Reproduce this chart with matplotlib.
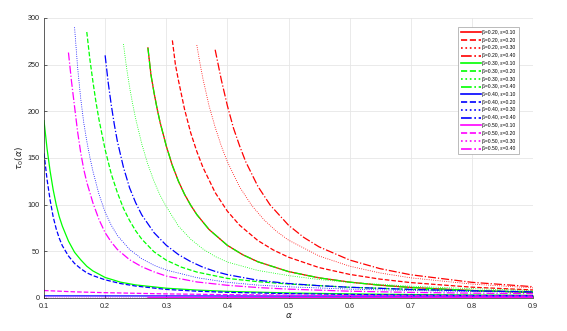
import matplotlib
matplotlib.use("Agg")
import matplotlib.pyplot as plt

# ---------------- data ----------------
labels = ["β=0.20, ε=0.10", "β=0.20, ε=0.20", "β=0.20, ε=0.30", "β=0.20, ε=0.40",
          "β=0.30, ε=0.10", "β=0.30, ε=0.20", "β=0.30, ε=0.30", "β=0.30, ε=0.40",
          "β=0.40, ε=0.10", "β=0.40, ε=0.20", "β=0.40, ε=0.30", "β=0.40, ε=0.40",
          "β=0.50, ε=0.10", "β=0.50, ε=0.20", "β=0.50, ε=0.30", "β=0.50, ε=0.40"]

# beta = 0.20
a_r1 = [0.27, 0.275, 0.28, 0.285, 0.29, 0.30, 0.31, 0.32, 0.33, 0.34, 0.35, 0.37,
        0.40, 0.425, 0.45, 0.50, 0.55, 0.60, 0.65, 0.70, 0.80, 0.90]
t_r1 = [268, 239, 220, 203, 188, 163, 142, 125, 111, 99.4, 89.4, 73.4,
        56.4, 46.4, 38.8, 28.3, 21.6, 17.0, 13.7, 11.3, 8.05, 6.0]
a_r2 = [0.31, 0.315, 0.32, 0.33, 0.34, 0.35, 0.36, 0.38, 0.40, 0.42, 0.45, 0.475,
        0.50, 0.55, 0.60, 0.65, 0.70, 0.80, 0.90]
t_r2 = [276, 250, 233, 202, 177, 157, 140, 113, 93, 78, 61.5, 51.5,
        43.7, 32.6, 25.3, 20.2, 16.5, 11.6, 8.6]
a_r3 = [0.35, 0.355, 0.36, 0.37, 0.38, 0.39, 0.40, 0.42, 0.44, 0.46, 0.48, 0.50,
        0.55, 0.60, 0.65, 0.70, 0.80, 0.90]
t_r3 = [271, 252, 235, 206, 183, 163, 146, 119, 99, 83.7, 71.6, 62,
        45, 34.1, 26.8, 21.6, 14.9, 10.85]
a_r4 = [0.38, 0.385, 0.39, 0.40, 0.41, 0.42, 0.43, 0.45, 0.47, 0.50, 0.525, 0.55,
        0.60, 0.65, 0.70, 0.80, 0.90]
t_r4 = [266, 250, 234, 206, 182, 163, 146, 119.5, 99.6, 78, 64.9, 54.8,
        40.7, 31.4, 24.9, 16.8, 12.1]

# beta = 0.30
a_g1 = [0.10, 0.105, 0.11, 0.115, 0.12, 0.125, 0.13, 0.14, 0.15, 0.16, 0.17, 0.18,
        0.20, 0.225, 0.25, 0.30, 0.35, 0.40, 0.50, 0.60, 0.70, 0.80, 0.90]
t_g1 = [190, 160, 136, 116, 100, 87, 77, 61, 49, 41, 34, 29,
        22, 17, 14, 10.5, 8.5, 7.1, 5.4, 4.4, 3.7, 3.2, 2.9]
a_g2 = [0.17, 0.175, 0.18, 0.185, 0.19, 0.20, 0.21, 0.22, 0.23, 0.24, 0.25, 0.26,
        0.28, 0.30, 0.325, 0.35, 0.40, 0.45, 0.50, 0.60, 0.70, 0.80, 0.90]
t_g2 = [285, 256, 232, 210, 191, 159, 133, 113, 96, 83, 72, 63,
        49.5, 40.5, 33, 27.8, 21, 17.5, 15, 11.5, 9.3, 7.8, 6.8]
a_g3 = [0.23, 0.235, 0.24, 0.245, 0.25, 0.26, 0.27, 0.28, 0.29, 0.30, 0.32, 0.34,
        0.36, 0.38, 0.40, 0.45, 0.50, 0.55, 0.60, 0.70, 0.80, 0.90]
t_g3 = [272, 247, 226, 208, 192, 165, 143, 125, 110, 98, 77, 63,
        52.5, 44.5, 38.5, 29.5, 24, 19.8, 16.7, 12.6, 10, 8]
a_g4 = [0.27, 0.275, 0.28, 0.285, 0.29, 0.30, 0.31, 0.32, 0.33, 0.34, 0.35, 0.37,
        0.40, 0.425, 0.45, 0.50, 0.55, 0.60, 0.65, 0.70, 0.80, 0.90]
t_g4 = [268, 239, 220, 203, 188, 163, 142, 125, 111, 99.4, 89.4, 73.4,
        56.4, 46.4, 38.8, 28.3, 21.6, 17.0, 13.7, 11.3, 8.05, 6.0]

# beta = 0.40
a_b1 = [0.10, 0.30, 0.50, 0.70, 0.90]
t_b1 = [2.3, 2.2, 2.1, 2.05, 2.0]
a_b2 = [0.10, 0.105, 0.11, 0.115, 0.12, 0.125, 0.13, 0.14, 0.15, 0.16, 0.17, 0.18,
        0.20, 0.225, 0.25, 0.30, 0.35, 0.40, 0.50, 0.60, 0.70, 0.80, 0.90]
t_b2 = [155, 127, 105, 87, 74, 64, 56, 45, 37, 31.5, 27, 24,
        19.5, 15.5, 12.8, 9.2, 7.3, 6.1, 4.7, 3.8, 3.2, 2.8, 2.5]
a_b3 = [0.15, 0.155, 0.16, 0.165, 0.17, 0.175, 0.18, 0.19, 0.20, 0.21, 0.22, 0.24,
        0.26, 0.28, 0.30, 0.35, 0.40, 0.45, 0.50, 0.60, 0.70, 0.80, 0.90]
t_b3 = [290, 247, 214, 188, 168, 151, 136, 111, 92, 78, 67, 52,
        42, 35, 30, 21.8, 16.8, 13.8, 12, 9.5, 8, 7, 6]
a_b4 = [0.20, 0.205, 0.21, 0.215, 0.22, 0.23, 0.24, 0.25, 0.26, 0.28, 0.30, 0.32,
        0.34, 0.36, 0.38, 0.40, 0.45, 0.50, 0.55, 0.60, 0.70, 0.80, 0.90]
t_b4 = [260, 231, 207, 186, 168, 140, 118, 102, 89, 70, 56.5, 46.5,
        39, 33, 28.5, 25, 19, 15.5, 13.2, 11.5, 9.2, 7.7, 6.6]

# beta = 0.50
a_m1 = [0.27, 0.40, 0.60, 0.90]
t_m1 = [0.7, 0.6, 0.55, 0.5]
a_m2 = [0.10, 0.15, 0.20, 0.30, 0.40, 0.50, 0.60, 0.70, 0.80, 0.90]
t_m2 = [8, 6.6, 5.7, 4.4, 3.6, 3.1, 2.7, 2.4, 2.2, 2.0]
a_m3 = [0.10, 0.30, 0.50, 0.70, 0.90]
t_m3 = [1.0, 0.85, 0.7, 0.65, 0.6]
a_m4 = [0.14, 0.145, 0.15, 0.155, 0.16, 0.165, 0.17, 0.18, 0.19, 0.20, 0.21, 0.22,
        0.24, 0.26, 0.28, 0.30, 0.35, 0.40, 0.45, 0.50, 0.60, 0.70, 0.80, 0.90]
t_m4 = [263, 232, 205, 178, 156, 138, 124, 102, 84, 70, 60, 52,
        41, 33.5, 28, 23.5, 17.2, 13.6, 11.2, 9.5, 7.3, 6, 5.2, 4.6]

xticks = [0.1, 0.2, 0.3, 0.4, 0.5, 0.6, 0.7, 0.8, 0.9]
yticks = [0, 50, 100, 150, 200, 250, 300]

series = [(a_r1, t_r1), (a_r2, t_r2), (a_r3, t_r3), (a_r4, t_r4),
          (a_g1, t_g1), (a_g2, t_g2), (a_g3, t_g3), (a_g4, t_g4),
          (a_b1, t_b1), (a_b2, t_b2), (a_b3, t_b3), (a_b4, t_b4),
          (a_m1, t_m1), (a_m2, t_m2), (a_m3, t_m3), (a_m4, t_m4)]
colors = ["#ff0000"] * 4 + ["#00ff00"] * 4 + ["#0000ff"] * 4 + ["#ff00ff"] * 4
styles = ["-", "--", ":", "-."] * 4

# ---------------- figure ----------------
plt.rcParams["font.family"] = ["Liberation Sans", "DejaVu Sans"]
plt.rcParams["mathtext.fontset"] = "dejavusans"
axcol = "#262626"

fig = plt.figure(figsize=(5.67, 3.31), dpi=100)
ax = fig.add_axes([44 / 567, 33 / 331, 489 / 567, 280 / 331])

for (a, t), c, ls, lab in zip(series, colors, styles, labels):
    lw = 0.6 if ls == ":" else 0.9
    ax.plot(a, t, color=c, linestyle=ls, linewidth=lw, label=lab)

ax.set_xlim(0.1, 0.9)
ax.set_ylim(0, 300)
ax.set_xticks(xticks)
ax.set_xticklabels([f"{v:g}" for v in xticks])
ax.set_yticks(yticks)
ax.grid(True, color="#e6e6e6", linewidth=0.6)
ax.set_axisbelow(True)
for s in ["top", "right"]:
    ax.spines[s].set_visible(False)
for s in ["left", "bottom"]:
    ax.spines[s].set_color(axcol)
    ax.spines[s].set_linewidth(0.5)
ax.tick_params(direction="in", length=2.5, width=0.5, colors=axcol,
               labelsize=5.2)
ax.tick_params(axis="x", pad=3.5)
ax.tick_params(axis="y", pad=3)

ax.set_xlabel(r"$\alpha$", fontsize=6.5, color=axcol, labelpad=0.5)
ax.set_ylabel(r"$\tau_0(\alpha)$", fontsize=6.5, color=axcol, labelpad=1)

leg = ax.legend(loc="upper right", bbox_to_anchor=(519 / 567, 1 - 27 / 331),
                bbox_transform=fig.transFigure, borderaxespad=0,
                fontsize=3.6, handlelength=4.0, handletextpad=0.4,
                labelspacing=0.55, borderpad=0.6, fancybox=False,
                framealpha=1, edgecolor="#a0a0a0")
leg.get_frame().set_linewidth(0.5)
for line in leg.get_lines():
    line.set_linewidth(1.2)

fig.savefig("out.png", dpi=100)
